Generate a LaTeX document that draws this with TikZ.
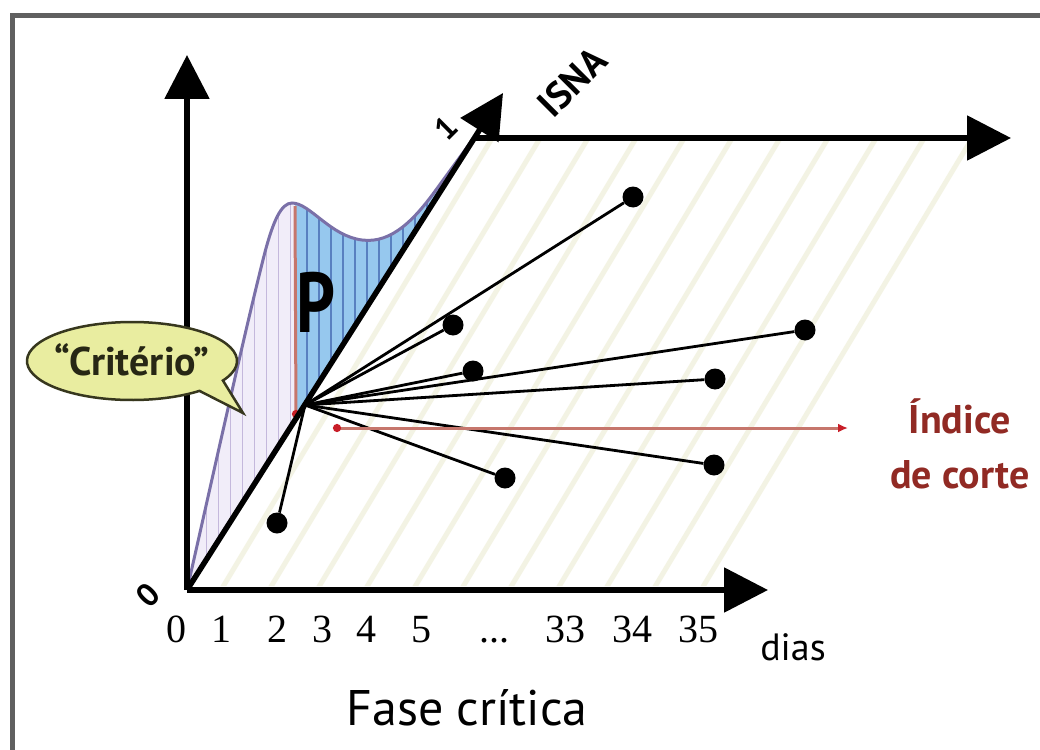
\documentclass[tikz,border=0pt]{standalone}
\usepackage{fontspec}
\setmainfont{Liberation Serif}
\newfontfamily\sansf{PT Sans}
\usetikzlibrary{arrows.meta}
\definecolor{framecol}{RGB}{96,96,96}
\definecolor{stripecol}{RGB}{243,243,228}
\definecolor{paleviolet}{RGB}{241,237,249}
\definecolor{palevline}{RGB}{196,184,220}
\definecolor{blueP}{RGB}{150,200,238}
\definecolor{bluevline}{RGB}{88,128,192}
\definecolor{curvecol}{RGB}{122,112,168}
\definecolor{redline}{RGB}{198,118,108}
\definecolor{redtip}{RGB}{200,30,40}
\definecolor{calloutfill}{RGB}{233,237,160}
\definecolor{calloutdraw}{RGB}{55,55,30}
\definecolor{cutred}{RGB}{145,42,36}
\begin{document}
\begin{tikzpicture}[x=1pt,y=-1pt,
  axisarrow/.style={line width=5.5pt, -{Triangle[length=44pt,width=44pt]}},
  ray/.style={line width=2.8pt},
  blackdot/.style={circle, fill=black, minimum size=21pt, inner sep=0pt},
  lbl/.style={inner sep=0pt, anchor=base, font=\fontsize{40}{48}\selectfont},
  sanslbl/.style={inner sep=0pt, anchor=base, font=\sansf\fontsize{#1}{#1}\selectfont},
  redarrow/.style={redline, line width=3pt}
]
\useasboundingbox (0,0) rectangle (1040,749);
\clip (0,0) rectangle (1040,749);
\fill[white] (0,0) rectangle (1040,749);
\draw[framecol, line width=5pt] (12,16) rectangle (1100,800);

% key points
\coordinate (O) at (187,590);
\coordinate (Ytip) at (187,55);
\coordinate (Xtip) at (768,590);
\coordinate (Dtip) at (503,93);
\coordinate (T0) at (474,138);
\coordinate (Ttip) at (1011,138);
\coordinate (C) at (305,405);

% stripes in the parallelogram
\begin{scope}
  \clip (192,586) -- (725,586) -- (980,141) -- (478,141) -- cycle;
  \foreach \b in {215,263,...,780}
    \draw[stripecol, line width=5pt] (\b,600) -- ++(282,-470);
\end{scope}

% distribution curve
\def\distpath{(O) .. controls (212,480) and (245,330) .. (265,252)
  .. controls (273,222) and (281,203) .. (292,203)
  .. controls (310,203) and (330,236) .. (362,240)
  .. controls (392,244) and (415,218) .. (433,194) -- (476,135)}

\begin{scope}
  \clip (0,0) rectangle (295,749);
  \fill[paleviolet] \distpath -- cycle;
  \clip \distpath -- cycle;
  \foreach \x in {206,218,...,295}
    \draw[palevline, line width=1pt] (\x,190) -- (\x,600);
\end{scope}
\begin{scope}
  \clip (295,0) rectangle (600,749);
  \fill[blueP] \distpath -- cycle;
  \clip \distpath -- cycle;
  \foreach \x in {307,319,...,480}
    \draw[bluevline, line width=1.2pt] (\x,130) -- (\x,430);
\end{scope}
\draw[curvecol, line width=3pt] \distpath;

% red vertical line
\coordinate (Rtop) at (295,206);
\coordinate (Rbot) at (296,418);
\draw[redarrow, -{Circle[length=8pt,color=redtip]}] (Rtop) -- (Rbot);

% axes
\draw[axisarrow] (O) -- (Ytip);
\draw[axisarrow] (O) -- (Xtip);
\draw[axisarrow] (O) -- (Dtip);
\draw[axisarrow] (T0) -- (Ttip);

% dots and rays
\node[blackdot] (d1) at (633,197) {};
\node[blackdot] (d2) at (453,325) {};
\node[blackdot] (d3) at (473,371) {};
\node[blackdot] (d4) at (805,330) {};
\node[blackdot] (d5) at (715,379) {};
\node[blackdot] (d6) at (714,465) {};
\node[blackdot] (d7) at (505,478) {};
\node[blackdot] (d8) at (277,523) {};
\foreach \d in {d1,d2,d3,d4,d5,d6,d7,d8}
  \draw[ray] (C) -- (\d);

% cut-off index line
\coordinate (Rl) at (333,428);
\coordinate (Rr) at (848,428);
\draw[redarrow, {Circle[length=8pt,color=redtip]}-{Latex[length=10pt,width=9pt,color=redtip]}] (Rl) -- (Rr);

% callout
\path[fill=calloutfill, draw=calloutdraw, line width=2.5pt]
  (243,413) -- ([shift={(132,361)}]30:105 and 39)
  arc[start angle=30, end angle=-310, x radius=105, y radius=39] -- cycle;
\node[inner sep=0pt, anchor=base, text=calloutdraw!70!black,
      font=\sansf\bfseries\fontsize{40}{40}\selectfont] (crit) at (132,375) {“Critério”};

% tick labels
\node[lbl] (t0) at (176,642) {0};
\node[lbl] (t1) at (221,642) {1};
\node[lbl] (t2) at (277,642) {2};
\node[lbl] (t3) at (322,642) {3};
\node[lbl] (t4) at (366,642) {4};
\node[lbl] (t5) at (421,642) {5};
\node[lbl] (tdots) at (494,642) {...};
\node[lbl] (t33) at (565,642) {33};
\node[lbl] (t34) at (632,642) {34};
\node[lbl] (t35) at (698,642) {35};

\node[sanslbl=38] (dias) at (793,660) {dias};
\node[sanslbl=50] (fase) at (467,725) {Fase crítica};
\node[inner sep=0pt, anchor=base, text=cutred, font=\sansf\bfseries\fontsize{40}{40}\selectfont] (ind) at (960,433) {Índice};
\node[inner sep=0pt, anchor=base, text=cutred, font=\sansf\bfseries\fontsize{40}{40}\selectfont] (corte) at (960,488) {de corte};
\node[inner sep=0pt, anchor=base, font=\sansf\bfseries\fontsize{85}{85}\selectfont] (P) at (316,332) {\scalebox{0.8}[1]{P}};
\node[inner sep=0pt, rotate=45, font=\sansf\bfseries\fontsize{38}{38}\selectfont] (isna) at (572,82) {ISNA};
\node[inner sep=0pt, rotate=45, font=\sansf\bfseries\fontsize{32}{32}\selectfont] (one) at (446,128) {1};
\node[inner sep=0pt, rotate=45, font=\sansf\bfseries\fontsize{32}{32}\selectfont] (zero) at (148,595) {0};
\end{tikzpicture}
\end{document}
